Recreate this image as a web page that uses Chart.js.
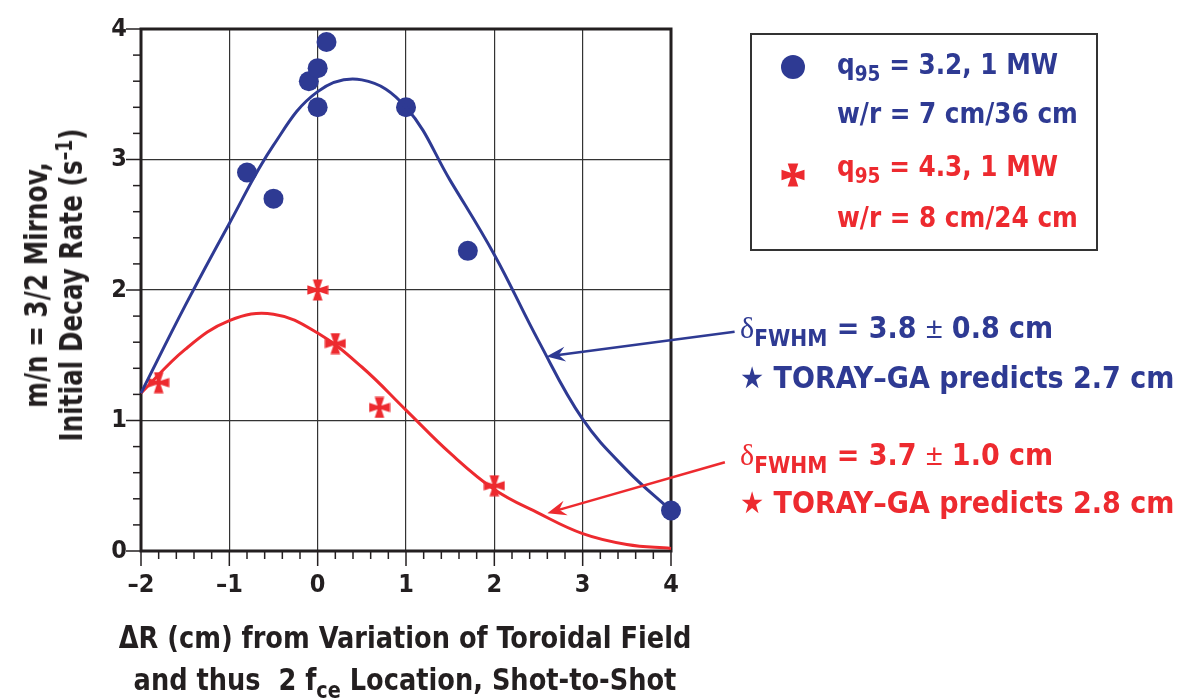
<!DOCTYPE html>
<html lang="en">
<head>
<meta charset="UTF-8">
<title>Mirnov decay rate vs ΔR</title>
<script src="https://cdn.jsdelivr.net/npm/chart.js@4.4.0/dist/chart.umd.min.js"></script>
<style>
  body { margin: 0; background: #fff; }
  #wrap {
    position: relative; width: 1181px; height: 699px;
    font-family: 'Liberation Sans Narrow', 'Arial Narrow', 'DejaVu Sans Condensed', sans-serif;
    font-weight: bold; color: #231f20;
  }
  #wrap canvas { position: absolute; left: 0; top: 0; }
  .txt { position: absolute; white-space: nowrap; line-height: 1; }
  .blue { color: #2e3a93; }
  .red { color: #ed2a2f; }
  sub { font-size: 75%; vertical-align: -0.35em; line-height: 0; }
  sup { font-size: 70%; vertical-align: 0.45em; line-height: 0; }
  .delta { font-family: 'Liberation Serif', serif; font-weight: normal; }
  .pm { font-family: 'Liberation Sans', sans-serif; font-weight: normal; }
  #legendBox { position: absolute; left: 750px; top: 33px; width: 344px; height: 214px; border: 2px solid #333; }
  #ytitle {
    position: absolute; left: 54px; top: 285px; transform: translate(-50%, -50%) rotate(-90deg) scaleX(0.86);
    text-align: center; font-size: 32px; line-height: 35px; white-space: nowrap;
  }
  #xtitle {
    position: absolute; left: 405px; top: 616px; transform: translateX(-50%) scaleX(0.92);
    text-align: center; font-size: 31px; line-height: 42px; white-space: nowrap;
  }
</style>
</head>
<body>
<div id="wrap">
  <canvas id="chart" width="1181" height="699"></canvas>
  <div id="legendBox"></div>
  <div class="txt blue" style="left:837px; top:51px; font-size:27.5px;">q<sub>95</sub> = 3.2, 1 MW</div>
  <div class="txt blue" style="left:837px; top:100px; font-size:27.5px;">w/r = 7 cm/36 cm</div>
  <div class="txt red" style="left:837px; top:153px; font-size:27.5px;">q<sub>95</sub> = 4.3, 1 MW</div>
  <div class="txt red" style="left:837px; top:204px; font-size:27.5px;">w/r = 8 cm/24 cm</div>

  <div class="txt blue" style="left:740px; top:313px; font-size:30px;"><span class="delta">δ</span><sub>FWHM</sub> = 3.8 <span class="pm">±</span> 0.8 cm</div>
  <div class="txt blue" style="left:740px; top:363px; font-size:30px;">★ TORAY–GA predicts 2.7 cm</div>
  <div class="txt red" style="left:740px; top:440px; font-size:30px;"><span class="delta">δ</span><sub>FWHM</sub> = 3.7 <span class="pm">±</span> 1.0 cm</div>
  <div class="txt red" style="left:740px; top:488px; font-size:30px;">★ TORAY–GA predicts 2.8 cm</div>

  <div id="ytitle">m/n = 3/2 Mirnov,<br>Initial Decay Rate (s<sup>–1</sup>)</div>
  <div id="xtitle">ΔR (cm) from Variation of Toroidal Field<br>and thus&nbsp; 2 f<sub>ce</sub> Location, Shot-to-Shot</div>
</div>

<script>
// measured points, q95 = 3.2
var blueX = [-0.8, -0.5, -0.1, 0.0, 0.0, 0.1, 1.0, 1.7, 4.0];
var blueY = [2.9, 2.7, 3.6, 3.7, 3.4, 3.9, 3.4, 2.3, 0.31];
// measured points, q95 = 4.3
var redX = [-1.8, 0.0, 0.2, 0.7, 2.0];
var redY = [1.29, 2.0, 1.59, 1.1, 0.5];

// fitted curves, every 0.5 cm
var fitX = [-2, -1.5, -1, -0.5, 0, 0.5, 1, 1.5, 2, 2.5, 3, 3.5, 4];
var blueFitY = [1.21, 1.88, 2.51, 3.11, 3.52, 3.61, 3.40, 2.84, 2.27, 1.61, 1.01, 0.62, 0.31];
var redFitY = [1.21, 1.545, 1.765, 1.815, 1.67, 1.41, 1.08, 0.75, 0.472, 0.29, 0.133, 0.05, 0.02];

// arrows from the annotations to the curves: [tailX, tailY, tipX, tipY]
var blueArrow = [4.72, 1.68, 2.59, 1.49];
var redArrow = [4.61, 0.68, 2.60, 0.29];

var xTicks = [-2, -1, 0, 1, 2, 3, 4];
var yTicks = [0, 1, 2, 3, 4];

var BLUE = '#2e3a93';
var RED = '#ed2a2f';
var INK = '#231f20';
var FONT = "'Liberation Sans Narrow', 'Arial Narrow', 'DejaVu Sans Condensed', sans-serif";

function pairs(xs, ys) {
    return xs.map(function (x, i) { return { x: x, y: ys[i] }; });
}

// red cross marker (cross pattee)
function makeCross(size, color) {
    var c = document.createElement('canvas');
    c.width = size; c.height = size;
    var g = c.getContext('2d');
    var m = size / 2, a = size / 2 - 0.5, w = size * 0.22, n = size * 0.06;
    g.fillStyle = color;
    g.translate(m, m);
    for (var k = 0; k < 4; k++) {
        g.beginPath();
        g.moveTo(-n, 0);
        g.lineTo(-w, -a);
        g.lineTo(w, -a);
        g.lineTo(n, 0);
        g.closePath();
        g.fill();
        g.rotate(Math.PI / 2);
    }
    g.fillRect(-n * 1.5, -n * 1.5, n * 3, n * 3);
    return c;
}
var crossImg = makeCross(22, RED);

function drawArrow(ctx, x1, y1, x2, y2, color) {
    var ang = Math.atan2(y2 - y1, x2 - x1);
    var len = 19, half = 7.5;
    ctx.save();
    ctx.strokeStyle = color; ctx.fillStyle = color; ctx.lineWidth = 2.5;
    ctx.beginPath();
    ctx.moveTo(x1, y1);
    ctx.lineTo(x2 - Math.cos(ang) * 10, y2 - Math.sin(ang) * 10);
    ctx.stroke();
    ctx.translate(x2, y2);
    ctx.rotate(ang);
    ctx.beginPath();
    ctx.moveTo(0, 0);
    ctx.lineTo(-len, -half);
    ctx.lineTo(-len * 0.65, 0);
    ctx.lineTo(-len, half);
    ctx.closePath();
    ctx.fill();
    ctx.restore();
}

var framePlugin = {
    id: 'frame',
    beforeDatasetsDraw: function (chart) {
        var ctx = chart.ctx, a = chart.chartArea;
        var xs = chart.scales.x, ys = chart.scales.y;
        ctx.save();
        ctx.strokeStyle = INK;
        ctx.lineWidth = 1.5;
        // minor and major ticks, pointing outwards
        for (var i = -20; i <= 40; i += 2) {
            var px = xs.getPixelForValue(i / 10);
            var major = i % 10 === 0;
            ctx.beginPath();
            ctx.moveTo(px, a.bottom);
            ctx.lineTo(px, a.bottom + (major ? 15 : 8));
            ctx.stroke();
        }
        for (var j = 0; j <= 40; j += 2) {
            var py = ys.getPixelForValue(j / 10);
            var maj = j % 10 === 0;
            ctx.beginPath();
            ctx.moveTo(a.left, py);
            ctx.lineTo(a.left - (maj ? 15 : 8), py);
            ctx.stroke();
        }
        ctx.lineWidth = 3;
        ctx.strokeRect(a.left, a.top, a.right - a.left, a.bottom - a.top);
        ctx.restore();
    },
    afterDatasetsDraw: function (chart) {
        var ctx = chart.ctx;
        var xs = chart.scales.x, ys = chart.scales.y;
        drawArrow(ctx, xs.getPixelForValue(blueArrow[0]), ys.getPixelForValue(blueArrow[1]),
            xs.getPixelForValue(blueArrow[2]), ys.getPixelForValue(blueArrow[3]), BLUE);
        drawArrow(ctx, xs.getPixelForValue(redArrow[0]), ys.getPixelForValue(redArrow[1]),
            xs.getPixelForValue(redArrow[2]), ys.getPixelForValue(redArrow[3]), RED);
        // legend markers
        ctx.save();
        ctx.fillStyle = BLUE;
        ctx.beginPath();
        ctx.arc(793, 67, 12, 0, Math.PI * 2);
        ctx.fill();
        ctx.drawImage(makeCross(24, RED), 781, 163);
        ctx.restore();
    }
};

var ctx = document.getElementById('chart').getContext('2d');
new Chart(ctx, {
    type: 'scatter',
    data: {
        datasets: [
            {
                label: 'fit q95 = 3.2',
                data: pairs(fitX, blueFitY),
                showLine: true,
                borderColor: BLUE,
                borderWidth: 3,
                pointRadius: 0,
                tension: 0.4,
                clip: false
            },
            {
                label: 'fit q95 = 4.3',
                data: pairs(fitX, redFitY),
                showLine: true,
                borderColor: RED,
                borderWidth: 3,
                pointRadius: 0,
                tension: 0.4,
                clip: false
            },
            {
                label: 'q95 = 3.2, 1 MW',
                data: pairs(blueX, blueY),
                backgroundColor: BLUE,
                borderWidth: 0,
                pointRadius: 10,
                clip: false
            },
            {
                label: 'q95 = 4.3, 1 MW',
                data: pairs(redX, redY),
                pointStyle: crossImg,
                clip: false
            }
        ]
    },
    options: {
        responsive: false,
        animation: false,
        devicePixelRatio: 1,
        layout: { padding: { top: 20, right: 510, left: 0, bottom: 0 } },
        plugins: { legend: { display: false }, tooltip: { enabled: false } },
        scales: {
            x: {
                type: 'linear',
                min: -2, max: 4,
                afterBuildTicks: function (s) { s.ticks = xTicks.map(function (v) { return { value: v }; }); },
                afterFit: function (s) { s.height = 148; },
                ticks: {
                    padding: 19,
                    color: INK,
                    font: { family: FONT, size: 25, weight: 'bold' },
                    callback: function (v) { return v < 0 ? '\u2013' + Math.abs(v) : String(v); }
                },
                grid: { color: '#333', lineWidth: 1.2, drawTicks: false },
                border: { display: false }
            },
            y: {
                type: 'linear',
                min: 0, max: 4,
                afterBuildTicks: function (s) { s.ticks = yTicks.map(function (v) { return { value: v }; }); },
                afterFit: function (s) { s.width = 141; },
                ticks: {
                    padding: 14,
                    color: INK,
                    font: { family: FONT, size: 25, weight: 'bold' },
                    callback: function (v) { return String(v); }
                },
                grid: { color: '#333', lineWidth: 1.2, drawTicks: false },
                border: { display: false }
            }
        }
    },
    plugins: [framePlugin]
});
</script>
</body>
</html>
